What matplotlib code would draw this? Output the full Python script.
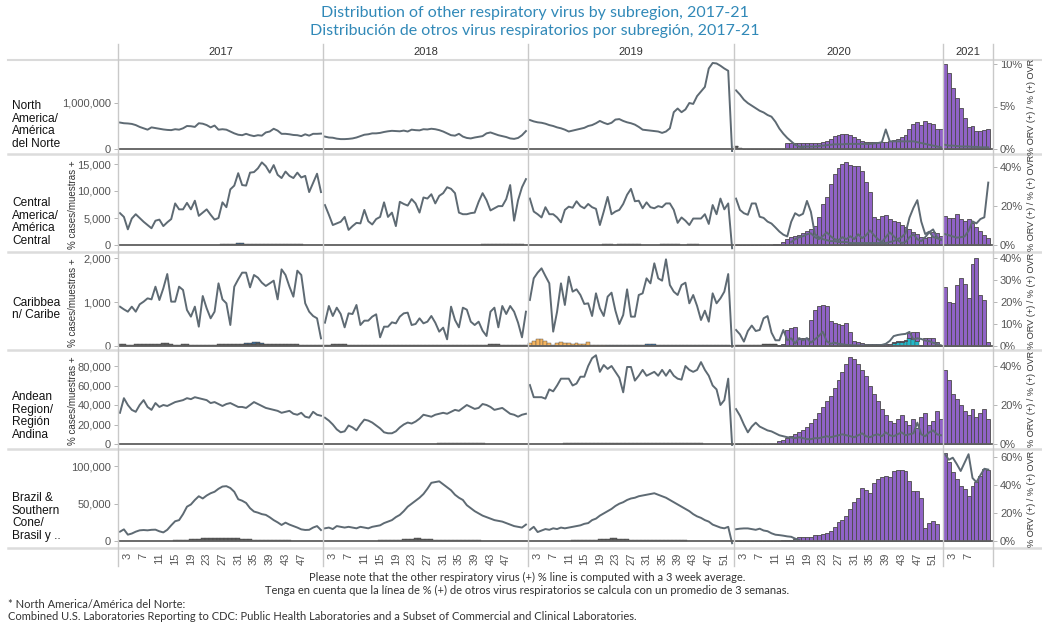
import matplotlib
matplotlib.use("Agg")
import matplotlib.pyplot as plt
from matplotlib.lines import Line2D
import numpy as np

plt.rcParams["font.family"] = ["Liberation Sans", "DejaVu Sans"]

W, H = 1042, 623

YEARS = ["2017", "2018", "2019", "2020", "2021"]
PANE_WEEKS = [52, 52, 52.3, 53, 12.7]      # width of each year pane, in weeks
PANE_POINTS = [52, 52, 53, 53, 12.7]       # points drawn across that width
TICK_WEEKS = [list(range(3, 48, 4)), list(range(3, 48, 4)),
              list(range(3, 52, 4)), list(range(3, 52, 4)), [3, 7]]

REGIONS = ["North\nAmerica/\nAmérica\ndel Norte",
           "Central\nAmerica/\nAmérica\nCentral",
           "Caribbea\nn/ Caribe",
           "Andean\nRegion/\nRegión\nAndina",
           "Brazil &\nSouthern\nCone/\nBrasil y .."]

LEFT_TICKS = [[0, 1000], [0, 5, 10, 15], [0, 1000, 2000], [0, 20, 40, 60, 80], [0, 50, 100]]
LEFT_UNIT = [1000, 1000, 1, 1000, 1000]
RIGHT_TICKS = [[0, 5, 10], [0, 20, 40], [0, 10, 20, 30, 40], [0, 20, 40], [0, 20, 40, 60]]

# ---- North America (line in thousands, % for 2020-21) ----
na_2017 = [575, 560, 555, 545, 520, 480, 450, 420, 470, 455, 440, 425, 415, 410, 430, 420, 450, 500,
           495, 480, 560, 550, 520, 470, 510, 420, 430, 420, 380, 340, 310, 300, 330, 300, 280, 300,
           290, 360, 380, 440, 400, 330, 330, 320, 305, 300, 280, 320, 290, 330, 330, 335]
na_2018 = [270, 250, 245, 225, 215, 215, 220, 230, 250, 280, 310, 320, 340, 340, 350, 370, 385, 395,
           390, 385, 400, 380, 420, 410, 405, 430, 425, 440, 430, 410, 380, 340, 300, 290, 330, 270,
           240, 230, 250, 265, 280, 340, 360, 330, 300, 280, 260, 230, 220, 240, 300, 390]
na_2019 = [630, 600, 580, 570, 550, 520, 500, 470, 450, 420, 380, 400, 420, 440, 460, 500, 520, 560,
           610, 570, 540, 570, 640, 650, 610, 580, 560, 530, 480, 420, 410, 400, 390, 380, 350, 380,
           450, 800, 880, 800, 860, 1000, 980, 1150, 1250, 1350, 1750, 1870, 1860, 1810, 1750, 1700, -60]
na_2020_a = [6.9, 6.4, 5.8, 5.4, 5.1, 4.8, 4.5, 4.3, 4.0, 3.8, 3.2, 2.4, 1.8, 1.3, 0.9, 0.5, 0.3, 0.15]
na_2020_b = [0.3, 0.3, 0.3, 0.3, 0.35, 0.4, 0.45, 0.5, 0.55, 0.55, 0.55, 0.6, 0.6, 0.6, 0.6, 0.6,
             0.6, 0.6, 0.65, 0.7, 0.8, 2.3, 0.9, 0.9, 0.9, 0.9, 0.9, 0.9, 0.9, 0.8, 0.7, 0.6, 0.5,
             0.4, 0.3, 0.2]                                   # starts week 18
na_2021_a = [0.5, 0.4, 0.4, 0.35, 0.3, 0.3, 0.3, 0.25, 0.25, 0.2, 0.2, 0.2]
na_bars_2020 = [0, 0, 0, 0, 0, 0, 0, 0, 0, 0, 0, 0, 0, 0.65, 0.65, 0.65, 0.65, 0.65, 0.65, 0.65,
                0.65, 0.65, 0.8, 1.0, 1.2, 1.5, 1.7, 1.8, 1.75, 1.6, 1.4, 1.2, 1.0, 0.85, 0.85,
                0.85, 0.85, 0.85, 0.85, 0.9, 1.1, 1.2, 1.4, 1.6, 2.3, 2.9, 3.2, 2.8, 3.3, 3.1, 2.9,
                2.4, 2.4]
na_bars_2021 = [10.0, 9.0, 7.2, 6.0, 4.8, 3.7, 2.6, 2.7, 2.1, 2.1, 2.2, 2.3]
na_other = [("2020", 1, [0.4, 0.1], "dark")]

# ---- Central America ----
ca_2017 = [5.9, 5.2, 2.9, 4.9, 5.7, 5.0, 4.3, 3.7, 3.1, 4.5, 4.7, 3.5, 4.2, 4.8, 7.7, 6.6, 6.6,
           7.8, 6.6, 8.2, 5.4, 6.0, 6.6, 5.6, 4.7, 5.0, 7.9, 7.0, 10.3, 11.0, 13.3, 11.1, 11.0,
           13.4, 13.5, 14.2, 15.3, 14.6, 13.4, 14.8, 13.0, 12.4, 13.6, 12.8, 12.4, 13.4, 12.5,
           12.8, 9.8, 11.5, 13.2, 9.8]
ca_2018 = [7.4, 5.6, 3.7, 4.0, 4.3, 5.2, 2.8, 3.5, 4.1, 4.0, 6.5, 4.4, 3.8, 4.8, 5.2, 7.9, 5.2,
           6.0, 3.5, 8.0, 7.6, 7.3, 8.5, 7.7, 6.0, 8.8, 8.6, 9.4, 7.7, 9.1, 9.6, 10.7, 10.4, 9.6,
           6.0, 5.7, 5.7, 5.9, 6.0, 8.0, 9.6, 8.3, 6.4, 6.8, 7.2, 7.2, 8.5, 11.1, 4.5, 8.3, 10.7, 12.2]
ca_2019 = [8.6, 6.2, 5.7, 5.1, 7.0, 5.7, 5.7, 5.1, 4.2, 6.5, 7.1, 6.9, 8.1, 7.2, 6.8, 7.6, 7.0,
           6.7, 3.7, 6.2, 8.9, 5.7, 6.2, 6.5, 7.6, 9.3, 10.4, 8.1, 8.2, 6.8, 7.9, 7.0, 6.8, 7.2,
           7.0, 7.7, 7.7, 6.5, 4.1, 5.1, 4.5, 3.7, 4.9, 4.9, 4.9, 5.7, 3.9, 7.4, 5.7, 8.6, 6.6,
           7.7, -0.6]
ca_2020_a = [23.8, 18.0, 16.3, 15.5, 21.3, 21.3, 14.5, 13.9, 12.0, 11.0, 9.0, 6.9, 5.3, 4.4, 11.9,
             16.3, 15.0, 16.0, 22.6, 17.0, 5.6, 4, 3, 2.5, 2, 2, 1.5, 1.5, 1.5, 1, 1, 1, 1, 1, 1,
             1, 1, 1, 1, 1.5, 2, 3, 4, 6, 14, 19, 23, 12, 5.6, 6.8, 4.1, 3.5, 2.9]
ca_2020_b = [1.5, 3, 4, 4.5, 5.5, 6, 4, 3, 4.5, 6.5, 4.5, 3, 2.5, 4, 3, 4.5, 3, 5.5, 3.5, 5, 7.5,
             5, 3, 1.5, 4, 6.5, 4.5, 2.5, 1, 1.5, 4, 5.5, 3, 2, 4, 6.5, 8, 4, 2.5]   # starts week 15
ca_2021_a = [5.6, 5.0, 4.4, 3.8, 4.0, 4.4, 7.3, 12.1, 11.1, 13.3, 14.2, 32.0]
ca_bars_2020 = [0, 0, 0, 0, 0, 0, 0, 0, 0, 0, 0.3, 0.5, 1.4, 3.1, 4.3, 4.8, 5.3, 6.0, 7.3, 8.2,
                9.9, 14.2, 21.0, 24.4, 31.3, 36.4, 39.5, 41.5, 42.4, 41.2, 40.7, 40.3, 38.1, 32.1,
                27.0, 14.2, 13.3, 15.0, 15.5, 13.3, 12.5, 11.6, 10.4, 9.4, 8.2, 6.5, 5.6, 4.3, 3.6,
                3.9, 6.8, 6.0, 4.8]
ca_bars_2021 = [15.0, 13.9, 13.7, 16.0, 13.3, 12.5, 13.3, 11.5, 9.0, 7.3, 5.0, 3.8]
ca_other = [("2017", 27, [0.4, 0.4, 0.5, 0.5, 0.6, 0.6, 0.5, 0.5, 0.7, 0.7, 0.5, 0.5, 0.4, 0.4,
                          0.4, 0.4, 0.4, 0.4, 0.4, 0.4, 0.4], "dark"),
            ("2017", 31, [0.5, 0.5], "blue"),
            ("2018", 41, [0.5, 0.5, 0.5, 0.5, 0.5, 0.5, 0.5, 0.5, 0.5, 0.5, 0.5], "dark"),
            ("2019", 20, [0.5, 0.5, 0.5, 0, 0.5, 0.5, 0.5, 0.5, 0.5, 0.5], "dark"),
            ("2019", 35, [0.5, 0.5, 0.5, 0.5, 0.5, 0, 0, 0.5, 0.5, 0.5], "dark")]

# ---- Caribbean (line in units) ----
car_2017 = [894, 833, 780, 894, 780, 947, 1008, 1083, 1060, 1348, 1045, 1311, 1636, 1008, 1008,
            1348, 1273, 818, 667, 894, 439, 1136, 856, 629, 780, 1424, 1060, 970, 477, 1348, 1515,
            1667, 1667, 1333, 1614, 1553, 1439, 1364, 1424, 1485, 1060, 1742, 1614, 1348, 1121,
            1712, 1614, 970, 780, 682, 629, 174]
car_2018 = [530, 909, 682, 871, 727, 424, 742, 727, 932, 477, 576, 576, 667, 720, 197, 439, 439,
            538, 515, 667, 742, 758, 477, 500, 629, 515, 553, 682, 530, 326, 417, 152, 894, 591,
            424, 871, 826, 553, 477, 553, 348, 227, 780, 871, 424, 909, 727, 909, 780, 530, 197, 780]
car_2019 = [1045, 1538, 1667, 1765, 1591, 1424, 326, 780, 1424, 932, 1576, 1235, 1288, 1159, 955,
            970, 682, 1197, 856, 682, 1121, 1212, 803, 500, 705, 1288, 667, 667, 1159, 1197, 1538,
            1424, 1879, 1538, 1485, 1970, 1386, 1235, 1159, 1386, 1439, 970, 1159, 909, 591, 803,
            553, 1197, 970, 1083, 1235, 1636, -15]
car_2020_a = [7.3, 5.3, 2.0, 6.8, 9.3, 6.8, 7.3, 12.6, 13.6, 6.1, 2.6, 2.6, 7.3, 2.6, 3.5, 1.1,
              3.6, 2.6, 3.6, 1.5, 3.0, 4.5, 6.5, 2.2, 1.0, 1.5, 1.0, 0.8, 0.5, 0.4, 0.3, 0.3, 0.3,
              0.3, 0.3, 0.3, 0.3, 0.5, 1.0, 2.3, 4.5, 5.0, 5.3, 5.5, 6.4, 3.0, 3.5, 3.2, 2.5, 2.2,
              1.5, 0.8, 0.3]
car_bars_2020 = [0, 0, 0, 0, 0, 0, 0, 0, 0, 0, 0, 0.5, 1.0, 7.3, 8.0, 8.6, 3.3, 3.5, 3.5, 12.0,
                 16.4, 18.2, 18.6, 18.0, 11.4, 10.5, 9.8, 9.5, 10.6, 6.5, 2.4, 2.0, 1.3, 1.0, 1.0,
                 0.7, 0.7, 0.7, 0.7, 0.7, 0.3, 0.3, 0.3, 0.3, 2.6, 3.5, 4.0, 0.5, 3.6, 3.6, 3.5,
                 2.0, 0.5]
car_bars_2021 = [26.7, 20.2, 19.7, 27.7, 30.8, 28.2, 22.0, 37.3, 39.9, 23.2, 20.9, 2.0]
car_other = [("2017", 1, [0.8, 0.8, 0.6, 0.6, 0.8, 0.8, 0.8, 0.8, 1.0, 1.0, 1.0, 1.2, 1.2, 0.8,
                          0.6, 0.6, 0.8, 0.8, 0.6, 0.5, 0.5, 0.6, 0.6, 0.5, 0.6, 0.8, 0.8, 0.8,
                          0.8, 0.8, 0.8, 0.8, 1.0, 1.0, 1.0, 1.2, 1.0, 1.0, 0.8, 0.8, 0.8, 0.8,
                          0.8, 0.8, 0.8, 0.8, 0.6, 0.6, 0.6, 0.5, 0.5, 0.4], "dark"),
             ("2017", 33, [0.4, 0.5, 0.6, 0.8, 0.4], "blue"),
             ("2018", 1, [0.6, 0.6, 0.7, 0.8, 0.9, 0.8, 0.6, 0.5, 0.5, 0.5, 0.5, 0.5, 0.5, 0.5,
                          0.5, 0.5, 0.5, 0.5, 0.5, 0.5, 0.5, 0.5, 0.5, 0.5, 0.5, 0.5, 0.5, 0.5,
                          0.5, 0.5, 0.5, 0.5, 0.5, 0.5, 0.5, 0.5, 0.5, 0.5, 0.5, 0.5, 0.5, 0.6,
                          0.8, 0.9, 0.8, 0.6, 0.5, 0.5, 0.5, 0.5, 0.5, 0.5], "dark"),
             ("2019", 1, [1.5, 2.5, 3.0, 3.0, 2.5, 1.5, 0.5, 1.5, 2.0, 1.5, 1.5, 1.0, 1.5, 1.0,
                          1.0, 2.0, 0.5, 0.5, 0.5, 0.5], "orange"),
             ("2019", 21, [0.5, 0.5, 0.5, 0.5, 0.5, 0.5, 0.5, 0.5, 0.6, 0.6, 0.8, 0.8, 0.8, 0.6,
                           0.6, 0.6, 0.6, 0.6, 0.5, 0.5, 0.6, 0.6, 0.5, 0.5, 0.5, 0.5, 0.5, 0.5,
                           0.5, 0.5, 0.5, 0.5], "blue"),
             ("2020", 1, [0.3, 0.3, 0.4, 0.4, 0.6, 0.6, 0.6, 0.8, 0.8, 0.8, 0.8], "dark"),
             ("2020", 41, [1.5, 2.0, 2.0, 2.5, 3.5, 3.0, 2.5], "cyan")]

# ---- Andean (line in thousands) ----
and_2017 = [32, 47, 40, 35, 33, 40, 45, 38, 35, 42, 38, 40, 39, 41, 43, 44, 45, 47, 46, 48, 47,
            46, 45, 42, 43, 41, 39, 41, 42, 40, 38, 38, 37, 40, 43, 41, 39, 37, 36, 35, 34, 32,
            33, 34, 31, 30, 32, 28, 27, 33, 30, 29]
and_2018 = [27, 24, 20, 15, 12, 13, 19, 17, 14, 20, 25, 24, 22, 19, 16, 12, 11, 11, 13, 17, 20,
            22, 21, 23, 26, 30, 29, 28, 30, 31, 32, 31, 33, 35, 34, 37, 40, 38, 36, 37, 41, 40,
            38, 35, 36, 37, 34, 31, 30, 28, 30, 31]
and_2019 = [60.5, 48, 48, 48, 46.5, 56, 54, 60, 67, 67, 67, 60, 62, 69, 69, 80, 88, 91, 74, 81,
            77, 80, 74, 68, 53, 79, 79, 65, 70, 76, 70, 72, 74, 70, 76, 70, 76, 70, 67, 66, 80,
            76, 74, 76, 84, 76, 70, 60, 56, 40, 45, 67, -1]
and_2020_a = [18, 14.6, 10, 6, 9, 11, 9, 8, 7, 6.5, 5.5, 4.5, 4, 3.5, 3.3, 3, 3.5, 3, 2.5, 2.5,
              3, 3, 3.5, 4, 3.5, 4, 4.5, 5, 4.5, 4, 3.5, 4.5, 5.5, 4, 3.5, 4.5, 5, 4, 6, 4.5, 4,
              5, 6, 4.5, 5, 5.5, 11, 5, 4, 6, 7, 5, 4.5]
and_bars_2020 = [0, 0, 0, 0, 0, 0, 0, 0, 0, 0, 0, 1.5, 2, 3, 4, 5, 6, 7, 9, 11, 13, 16, 19, 22,
                 25, 29, 33, 37, 41, 45, 44, 41, 38, 35, 30, 26, 22, 18, 15, 12, 11, 13, 15, 12,
                 10, 13, 8, 14, 16, 10, 12, 17, 13]
and_bars_2021 = [38, 33, 26, 23, 20, 17, 15, 18, 14, 16, 18, 13]
and_other = [("2018", 30, [0.4, 0.4, 0.5, 0.5, 0.4, 0.4, 0.5, 0.5, 0.4, 0.4, 0.4, 0.4], "dark"),
             ("2019", 10, [0.4, 0.5, 0.5, 0.6, 0.5, 0.4, 0.5, 0.6, 0.6, 0.5, 0.4, 0.5, 0.6, 0.5,
                           0.4, 0.4, 0.5, 0.6, 0.5, 0.4, 0.5, 0.6, 0.5, 0.4, 0.4, 0.5, 0.6, 0.5,
                           0.4, 0.5, 0.6, 0.5, 0.4, 0.4, 0.5, 0.5], "dark")]

# ---- Brazil & Southern Cone (line in thousands) ----
br_2017 = [12.5, 15.6, 8.5, 10, 12.5, 14.3, 14.7, 14.3, 15, 15.2, 13, 11.5, 15, 21, 26.5, 28, 36,
           46, 49, 55, 60, 57, 61, 64, 66, 70, 73, 73.5, 71, 66, 56, 54, 51, 44, 39.5, 38, 36, 35,
           31.8, 28, 25, 21.5, 24.6, 22, 20, 18, 15.6, 14.8, 15, 18, 20, 14.7]
br_2018 = [17, 18, 16, 20, 19, 18, 19, 18, 17, 19, 18, 17, 19, 20, 21, 24, 26, 28, 32, 35, 40, 46,
           50, 54, 58, 63, 70, 78, 79, 80, 76, 72, 68, 62, 58, 55, 48, 44, 40, 37, 34, 32, 30, 28,
           27, 26, 24, 22, 20, 19, 18, 22]
br_2019 = [15, 19, 12, 14, 16, 15, 17, 16, 18, 17, 18, 19, 20, 21, 23, 24, 28, 30, 34, 37, 40, 43,
           47, 50, 52, 55, 57, 58, 60, 61, 62, 63, 64, 62, 60, 58, 55, 52, 49, 46, 43, 40, 36, 33,
           31, 28, 26, 22, 20, 18, 17, 19, -3]
br_2020_a = [8.4, 8.8, 9, 9, 8.5, 8, 8.8, 7.5, 7, 5.5, 4.5, 4.2, 3.8, 3.3, 3.0, 1.7, 0.8]
br_2021_a = [62, 58, 59.5, 55, 50, 56, 62, 45, 42, 47, 51.6, 51]
br_bars_2020 = [0, 0, 0, 0, 0, 0, 0, 0, 0, 0, 0.3, 0.3, 0.5, 0.5, 0.7, 1.2, 3, 3, 2.8, 3.2, 4, 4.5,
                5, 6, 7.4, 9.8, 13.8, 15, 17.9, 22.6, 28.1, 30.5, 37.6, 36.5, 34.5, 41.2, 44, 45.9,
                46.7, 46, 50, 51, 51, 49.7, 42.6, 36, 35.5, 31, 9.5, 13, 14, 12, 1]
br_bars_2021 = [62.6, 56.5, 49.3, 44.6, 39.4, 37.5, 32.3, 39.4, 42.0, 46.4, 51.6, 50.7]
br_other = [("2017", 15, [0.8, 0.8, 1.0, 1.0, 1.2, 1.2, 1.5, 1.8, 2.0, 2.2, 2.4, 2.5, 2.5, 2.4,
                          2.2, 2.0, 1.8, 1.5, 1.2, 1.2, 1.0, 1.0, 1.0, 0.8, 0.8, 0.8, 0.8, 0.6,
                          0.6, 0.6], "dark"),
            ("2018", 15, [0.6, 0.6, 0.8, 0.8, 1.0, 1.0, 1.2, 1.4, 1.6, 1.8, 1.8, 1.6, 1.4, 1.2,
                          1.0, 1.0, 0.8, 0.8, 0.8, 0.6, 0.6, 0.6, 0.6, 0.6, 0.6, 0.6], "dark"),
            ("2019", 12, [0.6, 0.6, 0.6, 0.8, 0.8, 1.0, 1.0, 1.2, 1.4, 1.6, 1.8, 1.8, 1.6, 1.4,
                          1.2, 1.0, 1.0, 0.8, 0.8, 0.8, 0.6, 0.6, 0.6, 0.6, 0.6, 0.6, 0.6, 0.6,
                          0.6, 0.6], "dark")]

# rows: left-axis lines for 2017-19, % lines (year, first week, values), purple bars, small bars
ROWS = [
    dict(left=[na_2017, na_2018, na_2019],
         pct=[("2020", 1, na_2020_a), ("2020", 18, na_2020_b), ("2021", 1, na_2021_a)],
         bars=[("2020", na_bars_2020), ("2021", na_bars_2021)], other=na_other),
    dict(left=[ca_2017, ca_2018, ca_2019],
         pct=[("2020", 1, ca_2020_a), ("2020", 15, ca_2020_b), ("2021", 1, ca_2021_a)],
         bars=[("2020", ca_bars_2020), ("2021", ca_bars_2021)], other=ca_other),
    dict(left=[car_2017, car_2018, car_2019],
         pct=[("2020", 1, car_2020_a)],
         bars=[("2020", car_bars_2020), ("2021", car_bars_2021)], other=car_other),
    dict(left=[and_2017, and_2018, and_2019],
         pct=[("2020", 1, and_2020_a)],
         bars=[("2020", and_bars_2020), ("2021", and_bars_2021)], other=and_other),
    dict(left=[br_2017, br_2018, br_2019],
         pct=[("2020", 1, br_2020_a), ("2021", 1, br_2021_a)],
         bars=[("2020", br_bars_2020), ("2021", br_bars_2021)], other=br_other),
]

# pixel layout of the rows: box, zero line and scale of both axes
ROW_BOX = [(61, 152), (155, 250), (253, 349), (351, 447), (450, 547)]
ZERO_PX = [149, 245, 346, 444, 541]
LEFT_PX = [0.046, 5.4, 0.044, 0.975, 0.746]
RIGHT_PX = [8.5, 1.95, 2.2, 1.94, 1.4]
LABEL_Y = [125, 222, 309, 416, 517]

LINE_C = "#5e6a73"
PURPLE = "#9063c6"
EDGE = "#4a4a4a"
OTHER_C = {"dark": "#5a5a5a", "blue": "#3d6b98", "orange": "#f4b35e", "cyan": "#22b8c9"}
SEP_C = "#c9c9c9"
TXT_C = "#333333"
TICK_C = "#555555"

OFFSETS = np.concatenate([[0], np.cumsum(PANE_WEEKS)[:-1]])
TOTAL = float(sum(PANE_WEEKS))
X0, X1 = 118, 993


def step_of(year):
    i = YEARS.index(year)
    return PANE_WEEKS[i] / PANE_POINTS[i]


def week_x(year, first, n):
    i = YEARS.index(year)
    return OFFSETS[i] + (np.arange(first - 1, first - 1 + n) + 0.5) * step_of(year)


def fx(x):
    return x / W


def fy(y):
    return 1 - y / H


fig = plt.figure(figsize=(W / 100, H / 100), dpi=100)

# title
title_font = ["Lato", "DejaVu Sans"]
fig.text(fx(535), fy(13), "Distribution of other respiratory virus by subregion, 2017-21",
         ha="center", va="center", fontsize=11.5, color="#3189b8", family=title_font)
fig.text(fx(535), fy(31), "Distribución de otros virus respiratorios por subregión, 2017-21",
         ha="center", va="center", fontsize=11.5, color="#3189b8", family=title_font)

# year headers
for i, yr in enumerate(YEARS):
    cx = X0 + (OFFSETS[i] + PANE_WEEKS[i] / 2) / TOTAL * (X1 - X0)
    fig.text(fx(cx), fy(52), yr, ha="center", va="center", fontsize=8, color=TXT_C)

# grid lines of the table
fig.add_artist(Line2D([fx(8), 1], [fy(60), fy(60)], color="#dadada", lw=1.5))
for y in [153.5, 251.5, 350, 448.5, 548]:
    fig.add_artist(Line2D([fx(8), 1], [fy(y), fy(y)], color="#dcdcdc", lw=1.8))
for i in range(len(YEARS) + 1):
    edge = OFFSETS[i] if i < len(YEARS) else TOTAL
    x = X0 + edge / TOTAL * (X1 - X0)
    fig.add_artist(Line2D([fx(x), fx(x)], [fy(44), fy(566)], color=SEP_C, lw=1.0))

for r, row in enumerate(ROWS):
    top, bot = ROW_BOX[r]
    ax = fig.add_axes([fx(X0), fy(bot), (X1 - X0) / W, (bot - top) / H])
    axr = ax.twinx()
    z = ZERO_PX[r]
    ax.set_ylim(-(bot - z) / LEFT_PX[r], (z - top) / LEFT_PX[r])
    axr.set_ylim(-(bot - z) / RIGHT_PX[r], (z - top) / RIGHT_PX[r])
    ax.set_xlim(0, TOTAL)
    for a in (ax, axr):
        for s in a.spines.values():
            s.set_visible(False)
        a.patch.set_visible(False)

    # small bars of the other viruses, stacked
    bottoms = {yr: np.zeros(int(np.ceil(PANE_POINTS[YEARS.index(yr)]))) for yr in YEARS}
    for yr, first, vals, kind in row["other"]:
        vals = np.array(vals, dtype=float)
        b = bottoms[yr][first - 1:first - 1 + len(vals)]
        axr.bar(week_x(yr, first, len(vals)), vals, bottom=b, width=step_of(yr),
                color=OTHER_C[kind], edgecolor=EDGE, linewidth=0.3, zorder=2)
        bottoms[yr][first - 1:first - 1 + len(vals)] += vals

    for yr, vals in row["bars"]:
        vals = np.array(vals, dtype=float)
        b = bottoms[yr][:len(vals)]
        axr.bar(week_x(yr, 1, len(vals)), vals, bottom=b, width=step_of(yr),
                color=PURPLE, edgecolor=EDGE, linewidth=0.6, zorder=2)

    for i, vals in enumerate(row["left"]):
        ax.plot(week_x(YEARS[i], 1, len(vals)), vals, color=LINE_C, lw=1.4,
                solid_joinstyle="round", zorder=3)
    for yr, first, vals in row["pct"]:
        axr.plot(week_x(yr, first, len(vals)), vals, color=LINE_C, lw=1.4,
                 solid_joinstyle="round", zorder=4)

    axr.axhline(0, color="#5f5f5f", lw=1.3, zorder=5)

    unit = LEFT_UNIT[r]
    ax.set_yticks(LEFT_TICKS[r])
    ax.set_yticklabels([f"{v * unit:,.0f}" for v in LEFT_TICKS[r]])
    ax.tick_params(axis="y", length=3, width=0.6, color="#aaaaaa", pad=2,
                   labelsize=8, labelcolor=TICK_C)
    axr.set_yticks(RIGHT_TICKS[r])
    axr.set_yticklabels([f"{v}%" for v in RIGHT_TICKS[r]])
    axr.tick_params(axis="y", length=3, width=0.6, color="#aaaaaa", pad=2,
                    labelsize=8, labelcolor=TICK_C)

    if r == len(ROWS) - 1:
        pos, labs = [], []
        for i, yr in enumerate(YEARS):
            for w in TICK_WEEKS[i]:
                pos.append(week_x(yr, w, 1)[0])
                labs.append(str(w))
        ax.set_xticks(pos)
        ax.set_xticklabels(labs, rotation=90, fontsize=8, color=TICK_C)
        ax.tick_params(axis="x", length=0, pad=4)
    else:
        ax.set_xticks([])

    fig.text(fx(12), fy(LABEL_Y[r]), REGIONS[r], ha="left", va="center", fontsize=8.6,
             linespacing=1.05, color="#111111")
    mid = (top + bot) / 2
    fig.text(fx(1031), fy(mid), "% ORV (+) / % (+) OVR", rotation=90, ha="center",
             va="center", fontsize=6.6, color=TXT_C)
    if r in (1, 2, 3):
        fig.text(fx(73), fy(mid + 2), "% cases/muestras +", rotation=90, ha="center",
                 va="center", fontsize=7, color=TXT_C)

note_font = ["Lato", "DejaVu Sans"]
fig.text(fx(527), fy(577), "Please note that the other respiratory virus (+) % line is computed "
         "with a 3 week average.", ha="center", va="center", fontsize=8, color=TXT_C,
         family=note_font)
fig.text(fx(527), fy(590), "Tenga en cuenta que la línea de % (+) de otros virus respiratorios "
         "se calcula con un promedio de 3 semanas.", ha="center", va="center", fontsize=8,
         color=TXT_C, family=note_font)
fig.text(fx(8), fy(605), "* North America/América del Norte:", ha="left", va="center",
         fontsize=8, color=TXT_C, family=note_font)
fig.text(fx(8), fy(617), "Combined U.S. Laboratories Reporting to CDC: Public Health Laboratories "
         "and a Subset of Commercial and Clinical Laboratories.", ha="left", va="center",
         fontsize=8, color=TXT_C, family=note_font)

fig.savefig("out.png", dpi=100)
